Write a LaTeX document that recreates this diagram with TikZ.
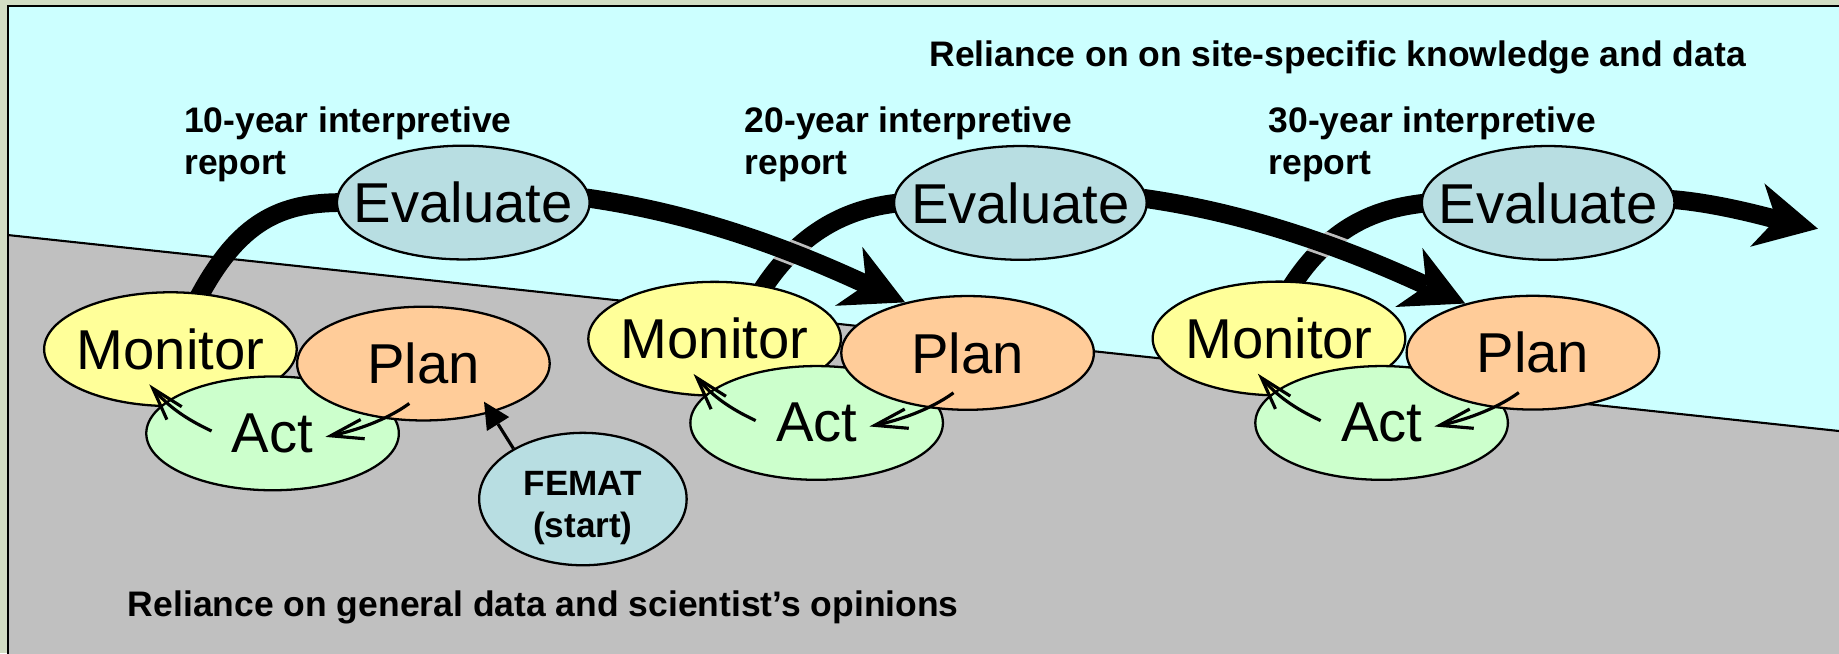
\documentclass[tikz,border=0pt]{standalone}
\usepackage{fontspec}
\setmainfont{Liberation Sans}
\usetikzlibrary{shapes.geometric,arrows.meta}
\definecolor{skyc}{RGB}{204,255,255}
\definecolor{groundc}{RGB}{192,192,192}
\definecolor{markc}{RGB}{190,190,190}
\definecolor{outerc}{RGB}{211,221,196}
\definecolor{evalc}{RGB}{184,222,226}
\definecolor{monc}{RGB}{255,255,153}
\definecolor{planc}{RGB}{255,204,153}
\definecolor{actc}{RGB}{204,255,204}
\pgfdeclarelayer{bg}
\pgfdeclarelayer{conn}
\pgfsetlayers{bg,conn,main}
\begin{document}
\begin{tikzpicture}[x=0.011728cm, y=-0.011728cm,
  ell/.style={ellipse, draw=black, line width=0.65pt, inner sep=0pt,
    minimum width=2.527cm, minimum height=1.138cm},
  big/.style={font=\fontsize{16}{19}\selectfont},
  lab/.style={font=\fontsize{10.1}{11.7}\selectfont\bfseries, inner sep=0pt, align=left},
  thickline/.style={line width=5.34pt},
  thickarr/.style={line width=5.34pt,
    -{Stealth[length=17.7pt,width=18.5pt,inset=5.5pt,line width=0pt]}},
  halo/.style={line width=6.9pt, draw=markc, shorten >=12pt},
  thinarr/.style={line width=0.9pt, -{Straight Barb[length=9.3pt,width=5.6pt]}},
  femarr/.style={line width=0.9pt, -{Triangle[length=7.5pt,width=7.5pt,line width=0pt]}}
]
\useasboundingbox (0,0) rectangle (1568,557);

% ---------- nodes ----------
\node[ell, fill=evalc, label={[big]center:Evaluate}] (eval1) at (395,172.7) {};
\node[ell, fill=evalc, label={[big]center:Evaluate}] (eval2) at (870,173) {};
\node[ell, fill=evalc, label={[big]center:Evaluate}] (eval3) at (1320,173) {};

\node[ell, fill=monc, label={[big]center:Monitor}] (mon1) at (145.3,297.7) {};
\node[ell, fill=actc, label={[big]center:Act}] (act1) at (232.4,369.5) {};
\node[ell, fill=planc, label={[big]center:Plan}] (plan1) at (361,310) {};

\node[ell, fill=monc, label={[big]center:Monitor}] (mon2) at (609.3,288.8) {};
\node[ell, fill=actc, label={[big]center:Act}] (act2) at (696.3,360.6) {};
\node[ell, fill=planc, label={[big]center:Plan}] (plan2) at (825,300.9) {};

\node[ell, fill=monc, label={[big]center:Monitor}] (mon3) at (1090.5,288.6) {};
\node[ell, fill=actc, label={[big]center:Act}] (act3) at (1178,360.6) {};
\node[ell, fill=planc, label={[big]center:Plan}] (plan3) at (1307,300.7) {};

\node[ell, fill=evalc, minimum width=2.076cm, minimum height=1.325cm,
  label={[lab, font=\fontsize{10}{12}\selectfont\bfseries, align=center, yshift=-2.5pt]center:FEMAT\\(start)}] (femat) at (497,425.5) {};

\coordinate (arrowend) at (1550,195);

% ---------- background ----------
\begin{pgfonlayer}{bg}
  \fill[outerc] (0,0) rectangle (1568,557);
  \fill[skyc] (6.8,5.1) -- (1570,5.1) -- (1570,367.7) -- (6.8,200.4) -- cycle;
  \fill[groundc] (6.8,200.4) -- (1570,367.7) -- (1570,560) -- (6.8,560) -- cycle;
  \draw[line width=0.6pt] (6.8,200.4) -- (1570,367.7);
  \draw[line width=0.6pt] (1575,5.1) -- (6.8,5.1) -- (6.8,565);
\end{pgfonlayer}

% ---------- thick connectors ----------
\begin{pgfonlayer}{conn}
  \draw[thickline] ([shift={(0,5)}]mon1.64) .. controls +(35,-66) and +(-52,0) .. ([shift={(5,0)}]eval1.west);
  \draw[thickline] ([shift={(0,5)}]mon2.49) .. controls +(36,-56) and +(-37,4) .. ([shift={(5,0)}]eval2.west);
  \draw[thickline] ([shift={(0,5)}]mon3.78) .. controls +(36,-56) and +(-37,4) .. ([shift={(5,0)}]eval3.west);

  \begin{scope}[blend mode=lighten]
    \draw[halo] ([shift={(-4,-4)}]eval1.east) .. controls +(99,14) and +(-91,-42) .. (plan2.141);
  \end{scope}
  \draw[thickarr] ([shift={(-4,-4)}]eval1.east) .. controls +(99,14) and +(-91,-42) .. (plan2.141);
  \begin{scope}[blend mode=lighten]
    \draw[halo] ([shift={(-4,-4)}]eval2.east) .. controls +(99,14) and +(-91,-42) .. (plan3.144);
  \end{scope}
  \draw[thickarr] ([shift={(-4,-4)}]eval2.east) .. controls +(99,14) and +(-91,-42) .. (plan3.144);
  \draw[thickarr] ([shift={(-4,-3)}]eval3.east) .. controls +(40,3) and +(-40,-9) .. (arrowend);
\end{pgfonlayer}

% ---------- thin arrows ----------
\draw[thinarr] ([shift={(-52,-2)}]act1.center) .. controls +(-22.6,-10.6) and +(16.4,18.9) .. ([shift={(-18,30)}]mon1.center);
\draw[thinarr] ([shift={(-12,34)}]plan1.center) .. controls +(-20.2,14.7) and +(24.5,-5.1) .. ([shift={(45,3)}]act1.center);
\draw[thinarr] ([shift={(-52,-2)}]act2.center) .. controls +(-22.6,-10.6) and +(16.4,18.9) .. ([shift={(-18,30)}]mon2.center);
\draw[thinarr] ([shift={(-12,34)}]plan2.center) .. controls +(-20.2,14.7) and +(24.5,-5.1) .. ([shift={(45,3)}]act2.center);
\draw[thinarr] ([shift={(-52,-2)}]act3.center) .. controls +(-22.6,-10.6) and +(16.4,18.9) .. ([shift={(-18,30)}]mon3.center);
\draw[thinarr] ([shift={(-12,34)}]plan3.center) .. controls +(-20.2,14.7) and +(24.5,-5.1) .. ([shift={(45,3)}]act3.center);
\draw[femarr] (femat.144) -- ([shift={(51.7,32.5)}]plan1.center);

% ---------- texts ----------
\node[lab, anchor=base west] (ttop) at (792,56.9) {Reliance on on site-specific knowledge and data};
\node[lab, anchor=north west] (t10) at (156.5,90.8) {10-year interpretive\\report};
\node[lab, anchor=north west] (t20) at (634.5,90.8) {20-year interpretive\\report};
\node[lab, anchor=north west] (t30) at (1081,90.8) {30-year interpretive\\report};
\node[lab, anchor=base west] (tbot) at (108.5,525.8) {Reliance on general data and scientist’s opinions};
\end{tikzpicture}
\end{document}
